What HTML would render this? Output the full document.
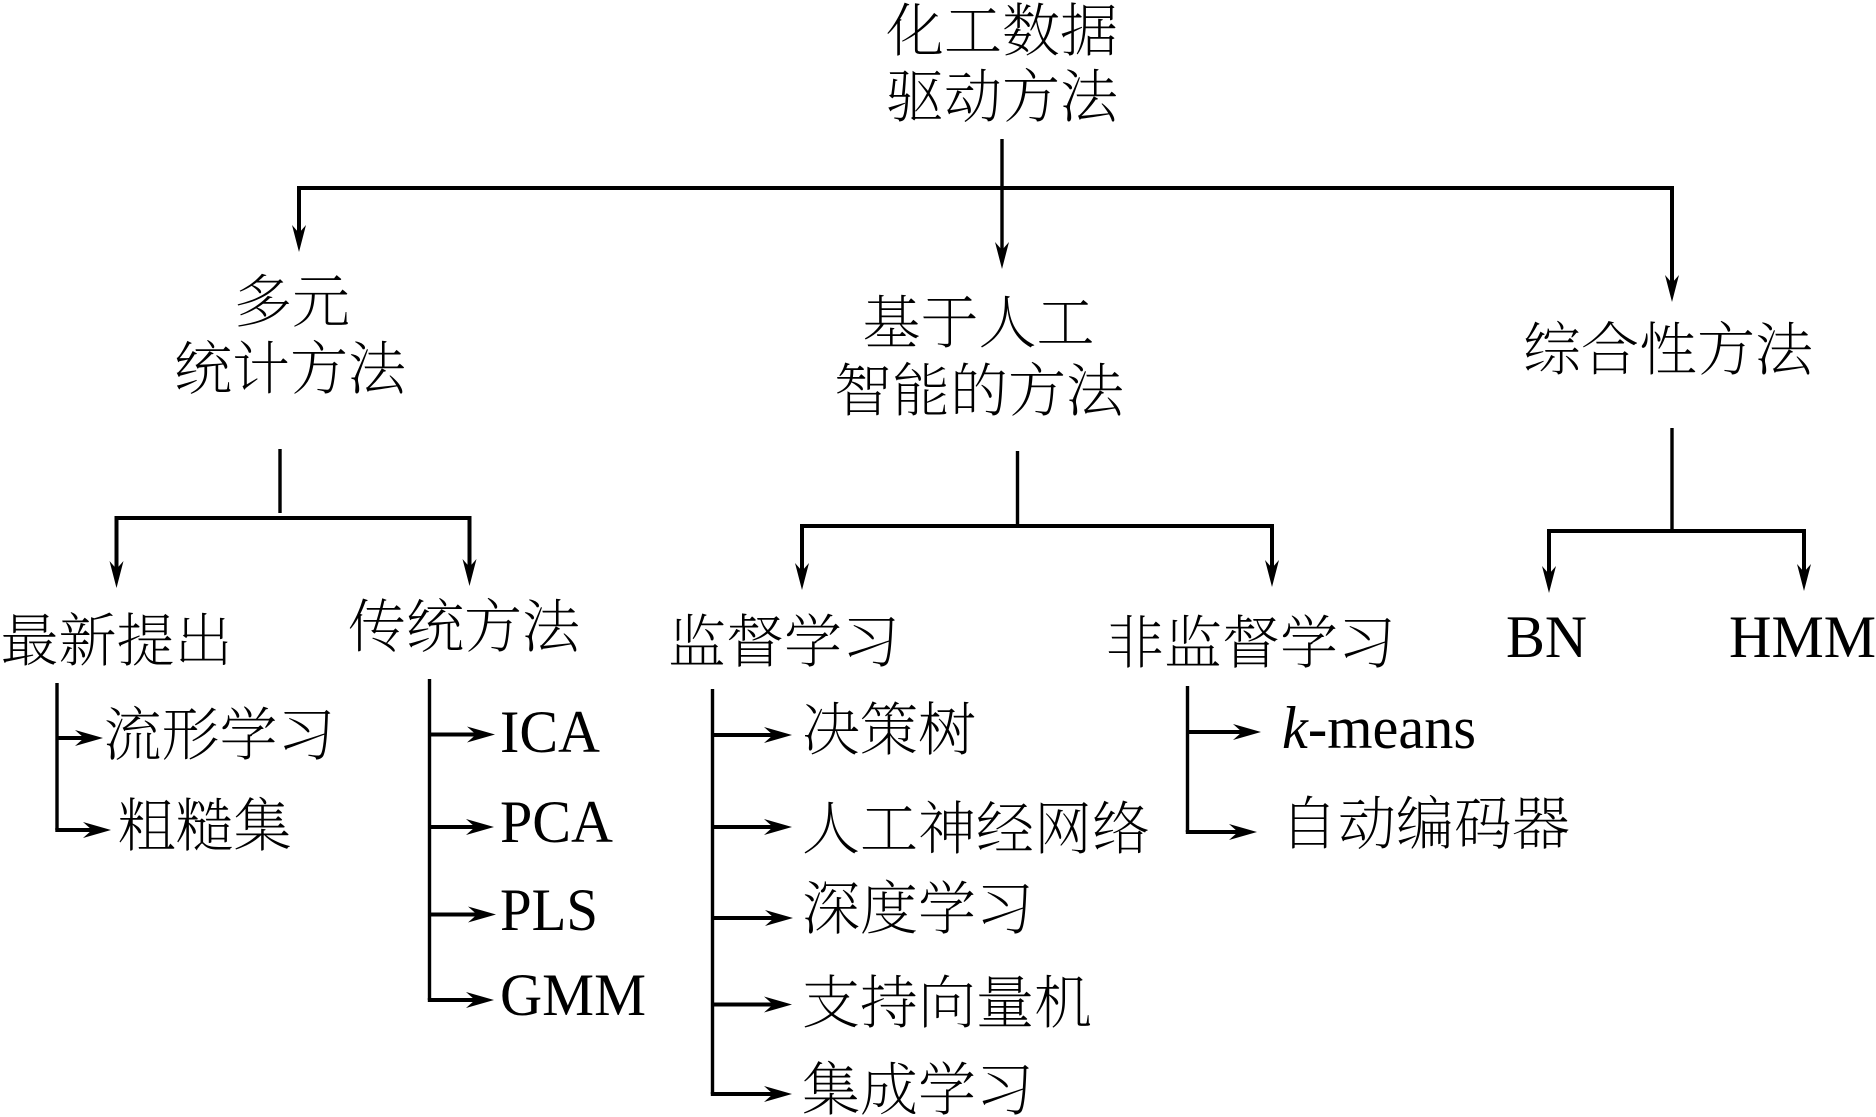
<!DOCTYPE html>
<html lang="zh">
<head>
<meta charset="utf-8">
<title>化工数据驱动方法</title>
<style>
html,body{margin:0;padding:0;background:#fff;}
svg{display:block;}
text{fill:#000;white-space:pre;}
.c{font-family:"Liberation Serif","Noto Serif CJK SC",serif;font-size:58px;font-weight:200;}
.l{font-family:"Liberation Serif","Noto Serif CJK SC",serif;font-size:60px;}
.v{stroke:#000;stroke-width:3.4;fill:none;}
.h{stroke:#000;stroke-width:4;fill:none;}
</style>
</head>
<body>
<svg width="1876" height="1117" viewBox="0 0 1876 1117" xmlns="http://www.w3.org/2000/svg">
<rect width="1876" height="1117" fill="#fff"/>

<!-- top level -->
<path class="v" d="M1002 139V250"/>
<path class="h" d="M299 236V188H1672V285"/>
<polygon points="299,252 292,225 299,233 306,225"/>
<polygon points="1002,269 995,242 1002,250 1009,242"/>
<polygon points="1672,302 1665,275 1672,283 1679,275"/>

<!-- second level -->
<path class="v" d="M280 449V513"/>
<path class="h" d="M116.500 570V518H469.500V570"/>
<polygon points="116.500,588 109.500,561 116.500,569 123.500,561"/>
<polygon points="469.500,586 462.500,559 469.500,567 476.500,559"/>

<path class="v" d="M1017.500 451V525"/>
<path class="h" d="M802 572V526H1272V570"/>
<polygon points="802,590 795,563 802,571 809,563"/>
<polygon points="1272,587 1265,560 1272,568 1279,560"/>

<path class="v" d="M1672 428V530"/>
<path class="h" d="M1549 575V531H1804V575"/>
<polygon points="1549,593 1542,566 1549,574 1556,566"/>
<polygon points="1804,591 1797,564 1804,572 1811,564"/>

<!-- branches: 最新提出 -->
<path class="v" d="M57 683V830"/>
<path class="h" d="M57 738H88"/>
<path class="h" d="M55.300 830H96"/>
<polygon points="103,738 75,730 84,738 75,746"/>
<polygon points="111,830 83,822 92,830 83,838"/>

<!-- branches: 传统方法 -->
<path class="v" d="M429.500 679V1000"/>
<path class="h" d="M429.500 734.500H480"/>
<path class="h" d="M429.500 827H480"/>
<path class="h" d="M429.500 914.500H480"/>
<path class="h" d="M427.800 1000H480"/>
<polygon points="495,734.500 467,726.500 476,734.500 467,742.500"/>
<polygon points="494,827 466,819 475,827 466,835"/>
<polygon points="496,914.500 468,906.500 477,914.500 468,922.500"/>
<polygon points="494,1000 466,992 475,1000 466,1008"/>

<!-- branches: 监督学习 -->
<path class="v" d="M712.500 689V1094"/>
<path class="h" d="M712.500 735H778"/>
<path class="h" d="M712.500 827H778"/>
<path class="h" d="M712.500 918H778"/>
<path class="h" d="M712.500 1004.500H778"/>
<path class="h" d="M710.800 1094H778"/>
<polygon points="792,735 764,727 773,735 764,743"/>
<polygon points="792,827 764,819 773,827 764,835"/>
<polygon points="793,918 765,910 774,918 765,926"/>
<polygon points="792,1004.500 764,996.500 773,1004.500 764,1012.500"/>
<polygon points="792,1094 764,1086 773,1094 764,1102"/>

<!-- branches: 非监督学习 -->
<path class="v" d="M1187.500 686V832"/>
<path class="h" d="M1187.500 732H1246"/>
<path class="h" d="M1185.800 832H1242"/>
<polygon points="1261,732 1233,724 1242,732 1233,740"/>
<polygon points="1257,832 1229,824 1238,832 1229,840"/>

<!-- text -->
<text class="c" x="886" y="51">化工数据</text>
<text class="c" x="886" y="117">驱动方法</text>
<text class="c" x="234" y="322">多元</text>
<text class="c" x="174" y="389">统计方法</text>
<text class="c" x="862.500" y="343">基于人工</text>
<text class="c" x="834" y="411">智能的方法</text>
<text class="c" x="1523" y="370">综合性方法</text>
<text class="c" x="0.500" y="661">最新提出</text>
<text class="c" x="348" y="647">传统方法</text>
<text class="c" x="668" y="662">监督学习</text>
<text class="c" x="1106" y="663">非监督学习</text>
<text class="c" x="103.500" y="755">流形学习</text>
<text class="c" x="117.500" y="846">粗糙集</text>
<text class="c" x="802" y="750">决策树</text>
<text class="c" x="802" y="849">人工神经网络</text>
<text class="c" x="802" y="929">深度学习</text>
<text class="c" x="802" y="1023">支持向量机</text>
<text class="c" x="802" y="1110">集成学习</text>
<text class="c" x="1280" y="844">自动编码器</text>

<text class="l" x="500" y="752" textLength="100" lengthAdjust="spacingAndGlyphs">ICA</text>
<text class="l" x="500" y="842" textLength="113" lengthAdjust="spacingAndGlyphs">PCA</text>
<text class="l" x="500" y="930" textLength="98" lengthAdjust="spacingAndGlyphs">PLS</text>
<text class="l" x="500" y="1015" textLength="146" lengthAdjust="spacingAndGlyphs">GMM</text>
<text class="l" x="1506" y="657" textLength="81" lengthAdjust="spacingAndGlyphs">BN</text>
<text class="l" x="1729" y="657" textLength="147" lengthAdjust="spacingAndGlyphs">HMM</text>
<text class="l" x="1282" y="748" textLength="194" lengthAdjust="spacingAndGlyphs"><tspan font-style="italic">k</tspan>-means</text>
</svg>
</body>
</html>
